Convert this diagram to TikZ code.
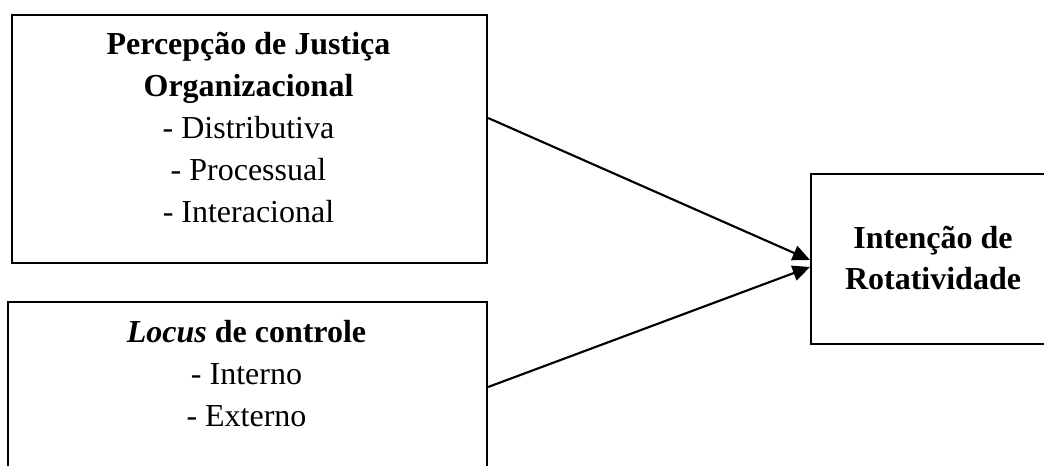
\documentclass[tikz,border=0pt]{standalone}
\usepackage{fontspec}
\setmainfont{Liberation Serif}
\usetikzlibrary{arrows.meta,calc}
\begin{document}
\begin{tikzpicture}[x=0.75pt,y=-0.75pt,
  box/.style={draw,line width=1.6pt,inner sep=0,anchor=north west},
  txt/.style={anchor=base,inner sep=0,font=\fontsize{24}{31.5}\selectfont},
  conn/.style={line width=1.6pt,-{Triangle[length=13pt,width=11.5pt]}}]
\useasboundingbox (0,0) rectangle (1044,466);
\clip (0,0) rectangle (1044,466);
\node[box,minimum width=356.25pt,minimum height=186pt] (b1) at (11,14) {};
\node[box,minimum width=359.25pt,minimum height=134.25pt] (b2) at (7,301) {};
\node[box,minimum width=184.5pt,minimum height=127.5pt] (b3) at (810,173) {};
\node[txt] (t1) at (248.5,55) {\begin{tabular}[t]{@{}c@{}}\textbf{Percepção de Justiça}\\ \textbf{Organizacional}\\ - Distributiva\\ - Processual\\ - Interacional\end{tabular}};
\node[txt] (t2) at (246.5,342) {\begin{tabular}[t]{@{}c@{}}\textbf{\textit{Locus} de controle}\\ - Interno\\ - Externo\end{tabular}};
\node[txt] (t3) at (933,248) {\begin{tabular}[t]{@{}c@{}}\textbf{Intenção de}\\ \textbf{Rotatividade}\end{tabular}};
\draw[conn] ($(b1.north east)+(0,104)$) -- ($(b3.north west)+(0,87)$);
\draw[conn] ($(b2.north east)+(0,86)$) -- ($(b3.north west)+(0,94)$);
\end{tikzpicture}
\end{document}
